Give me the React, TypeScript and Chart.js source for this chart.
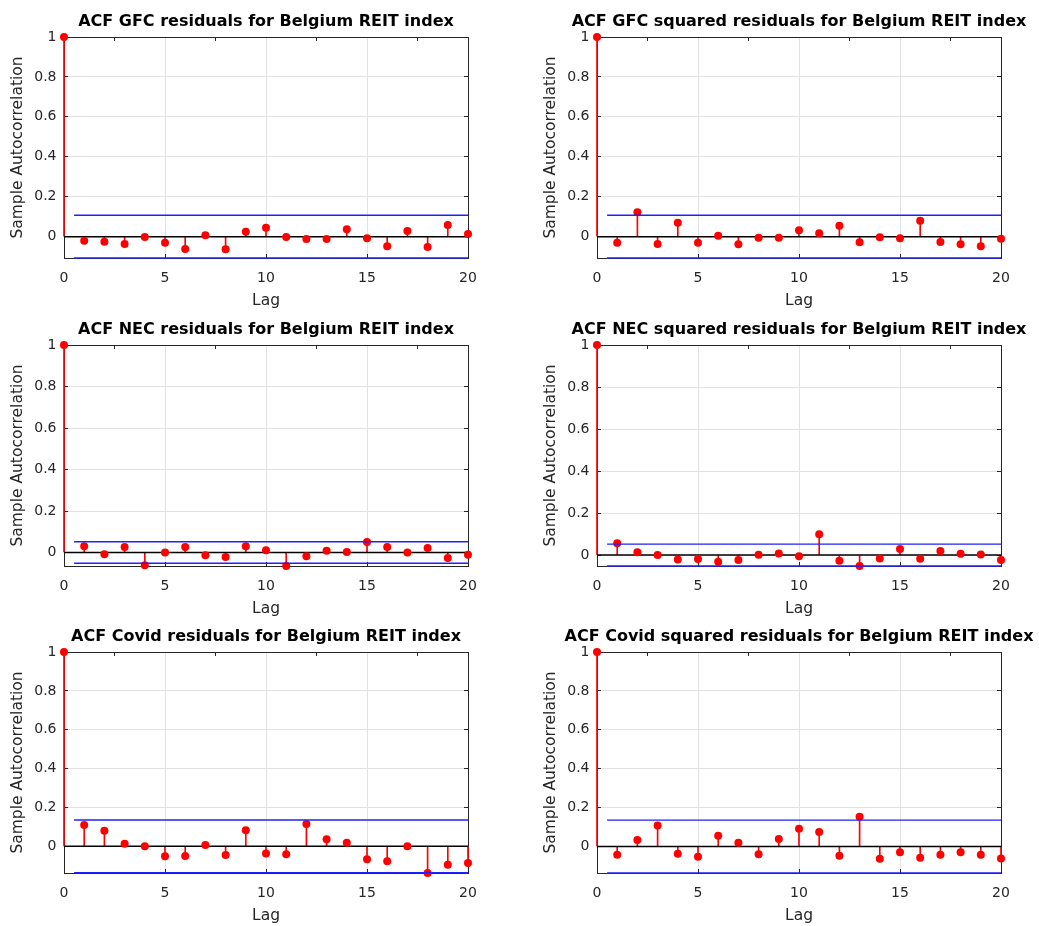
import React, { useEffect, useRef } from 'react';
import { Chart, registerables } from 'chart.js';

Chart.register(...registerables);
Chart.defaults.font.family = "'DejaVu Sans', sans-serif";

// ---------- data ----------
const lags = [0, 1, 2, 3, 4, 5, 6, 7, 8, 9, 10, 11, 12, 13, 14, 15, 16, 17, 18, 19, 20];
const xTickStep = 5;
const yTickStep = 0.2;
const yMaxValue = 1;
const boundStartLag = 0.5;

const titles = [
  'ACF GFC residuals for Belgium REIT index',
  'ACF GFC squared residuals for Belgium REIT index',
  'ACF NEC residuals for Belgium REIT index',
  'ACF NEC squared residuals for Belgium REIT index',
  'ACF Covid residuals for Belgium REIT index',
  'ACF Covid squared residuals for Belgium REIT index',
];

const gfcResiduals = [1, -0.020, -0.025, -0.037, -0.002, -0.030, -0.062, 0.007, -0.063, 0.025, 0.045, -0.002, -0.012, -0.012, 0.037, -0.008, -0.048, 0.028, -0.052, 0.058, 0.013];
const gfcSquared = [1, -0.030, 0.122, -0.037, 0.070, -0.030, 0.005, -0.038, -0.005, -0.005, 0.032, 0.017, 0.055, -0.028, -0.003, -0.008, 0.080, -0.027, -0.038, -0.048, -0.010];
const necResiduals = [1, 0.030, -0.008, 0.026, -0.061, 0.000, 0.026, -0.013, -0.022, 0.030, 0.011, -0.065, -0.018, 0.008, 0.002, 0.051, 0.027, 0.000, 0.022, -0.026, -0.011];
const necSquared = [1, 0.056, 0.014, 0.000, -0.021, -0.019, -0.032, -0.024, 0.002, 0.008, -0.005, 0.099, -0.027, -0.052, -0.016, 0.029, -0.018, 0.019, 0.006, 0.003, -0.024];
const covidResiduals = [1, 0.110, 0.080, 0.014, 0.000, -0.051, -0.049, 0.007, -0.044, 0.083, -0.037, -0.041, 0.115, 0.036, 0.019, -0.066, -0.076, 0.000, -0.137, -0.095, -0.086];
const covidSquared = [1, -0.042, 0.034, 0.108, -0.037, -0.053, 0.056, 0.019, -0.039, 0.039, 0.092, 0.075, -0.047, 0.153, -0.063, -0.029, -0.058, -0.042, -0.029, -0.042, -0.061];

const gfcBound = 0.107;
const necBound = 0.052;
const covidBound = 0.136;

const panelSeries = [gfcResiduals, gfcSquared, necResiduals, necSquared, covidResiduals, covidSquared];
const panelBounds = [gfcBound, gfcBound, necBound, necBound, covidBound, covidBound];

// ---------- layout / style ----------
const COL_LEFT = [0, 533];
const ROW_TOP = [0, 308, 615];
const CELL_W = 532;
const CELL_H = 310;
const AREA_LEFT = 64;
const AREA_W = 404;
const AREA_TOP = 37;
const AREA_H = 221;

const RED = '#ff0000';
const BLUE = '#1f1fff';
const AXIS = '#262626';
const GRID = '#e2e2e2';

function fmt(v: number | string) {
  const n = Math.round(Number(v) * 10) / 10;
  return String(n === 0 ? 0 : n);
}

function AcfPanel({ title, acf, bound, left, top, width, height }: any) {
  const ref = useRef<HTMLCanvasElement>(null);
  useEffect(() => {
    if (!ref.current) return;
    const maxLag = lags[lags.length - 1];
    const yMin = Math.min(...acf, -bound);
    const tickMarks = { tickLength: -4, tickColor: AXIS, tickWidth: 1 };
    const chart = new Chart(ref.current, {
      type: 'bar',
      data: {
        datasets: [
          {
            type: 'line', label: 'upper bound',
            data: [{ x: boundStartLag, y: bound }, { x: maxLag, y: bound }],
            borderColor: BLUE, borderWidth: 1.4, pointRadius: 0, order: 0, clip: false,
          },
          {
            type: 'line', label: 'lower bound',
            data: [{ x: boundStartLag, y: -bound }, { x: maxLag, y: -bound }],
            borderColor: BLUE, borderWidth: 1.4, pointRadius: 0, order: 0, clip: false,
          },
          {
            type: 'line', label: 'acf',
            data: lags.map((l, i) => ({ x: l, y: acf[i] })),
            showLine: false, pointRadius: 4, pointBorderWidth: 0,
            pointBackgroundColor: RED, pointBorderColor: RED, order: 1, clip: false,
          },
          {
            type: 'line', label: 'baseline',
            data: [{ x: lags[0], y: 0 }, { x: maxLag, y: 0 }],
            borderColor: '#000', borderWidth: 1.5, pointRadius: 0, order: 2,
          },
          {
            type: 'bar', label: 'stems',
            data: lags.map((l, i) => ({ x: l, y: [0, acf[i]] })),
            backgroundColor: RED, borderWidth: 0, barThickness: 1, grouped: false,
            order: 3, clip: false,
          },
        ],
      } as any,
      options: {
        responsive: false,
        animation: false,
        devicePixelRatio: 1,
        layout: { padding: 0 },
        plugins: {
          legend: { display: false },
          tooltip: { enabled: false },
          title: {
            display: true, text: title, fullSize: true, color: '#000',
            font: { size: 16, weight: 'bold' },
            padding: { top: 12, bottom: AREA_TOP - 12 - 19.2 },
          },
        },
        scales: {
          x: {
            type: 'linear', position: 'bottom', min: lags[0], max: maxLag, offset: false,
            grid: { offset: false, color: GRID, lineWidth: 1, ...tickMarks },
            border: { color: AXIS, width: 1 },
            ticks: { stepSize: xTickStep, color: AXIS, font: { size: 14 }, padding: 15.5, autoSkip: false, maxRotation: 0 },
            title: { display: true, text: 'Lag', color: AXIS, font: { size: 15.5 }, padding: { top: 0, bottom: 0 } },
            afterFit: (s: any) => { s.height = height - AREA_TOP - AREA_H; },
          },
          y: {
            type: 'linear', position: 'left', min: yMin, max: yMaxValue,
            grid: { color: GRID, lineWidth: 1, ...tickMarks },
            border: { color: AXIS, width: 1 },
            ticks: { stepSize: yTickStep, includeBounds: false, color: AXIS, font: { size: 14 }, padding: 11.5, autoSkip: false, callback: (v: any) => fmt(v) },
            title: { display: true, text: 'Sample Autocorrelation', color: AXIS, font: { size: 15.5 }, padding: { top: 8.5, bottom: 0 } },
            afterFit: (s: any) => { s.width = AREA_LEFT; },
          },
          x2: {
            type: 'linear', position: 'top', min: lags[0], max: maxLag, offset: false,
            grid: { drawOnChartArea: false, color: GRID, ...tickMarks },
            border: { color: AXIS, width: 1 },
            ticks: { display: false, stepSize: xTickStep, autoSkip: false },
            afterFit: (s: any) => { s.height = 0; },
          },
          y2: {
            type: 'linear', position: 'right', min: yMin, max: yMaxValue,
            grid: { drawOnChartArea: false, color: GRID, ...tickMarks },
            border: { color: AXIS, width: 1 },
            ticks: { display: false, stepSize: yTickStep, includeBounds: false, autoSkip: false },
            afterFit: (s: any) => { s.width = width - AREA_LEFT - AREA_W; },
          },
        },
      } as any,
    });
    return () => chart.destroy();
  }, []);
  return (
    <canvas
      ref={ref}
      width={width}
      height={height}
      style={{ position: 'absolute', left, top, width, height }}
    />
  );
}

export default function App() {
  return (
    <div style={{ position: 'absolute', left: 0, top: 0, width: 1039, height: 926, overflow: 'hidden', background: '#fff' }}>
      {titles.map((t, i) => {
        const col = i % 2;
        const row = Math.floor(i / 2);
        return (
          <AcfPanel
            key={i}
            title={t}
            acf={panelSeries[i]}
            bound={panelBounds[i]}
            left={COL_LEFT[col]}
            top={ROW_TOP[row]}
            width={CELL_W}
            height={CELL_H}
          />
        );
      })}
    </div>
  );
}
